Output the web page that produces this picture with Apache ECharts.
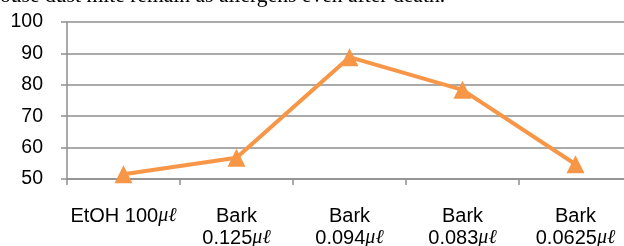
<!DOCTYPE html>
<html>
<head>
<meta charset="utf-8">
<script src="https://cdn.jsdelivr.net/npm/echarts@6/dist/echarts.min.js"></script>
<style>
html,body{margin:0;padding:0;background:#fff;}
#c{width:624px;height:246px;}
</style>
</head>
<body>
<div id="c"></div>
<script>
const categories = ['EtOH 100', 'Bark\n0.125', 'Bark\n0.094', 'Bark\n0.083', 'Bark\n0.0625'];
const unit = 'μℓ';
const values = [51.5, 56.8, 88.8, 78.4, 54.7];
const yTicks = [50, 60, 70, 80, 90, 100];
const headerText = 'ouse dust mite remain as allergens even after death.';

const chart = echarts.init(document.getElementById('c'), null, {renderer: 'canvas'});
const gridColor = '#8e8e8e';
chart.setOption({
  animation: false,
  backgroundColor: '#fff',
  graphic: [{
    type: 'text',
    left: 0,
    top: -14.5,
    style: {
      text: headerText,
      font: '21.6px "Liberation Serif"',
      fill: '#000'
    }
  }],
  grid: {left: 67, top: 22, width: 565, height: 157, containLabel: false, outerBoundsMode: 'none'},
  xAxis: {
    type: 'category',
    data: categories,
    boundaryGap: true,
    axisLine: {show: true, lineStyle: {color: gridColor, width: 1.5}},
    axisTick: {show: true, interval: 0, length: 6, lineStyle: {color: gridColor, width: 1.5}},
    axisLabel: {
      interval: 0,
      margin: 26,
      color: '#000',
      fontFamily: 'Liberation Sans',
      fontSize: 20,
      lineHeight: 22,
      formatter: function (v) {
        return v.split('\n').map(function (s, i, arr) {
          return i === arr.length - 1 ? '{a|' + s + '}{u|' + unit + '}' : '{a|' + s + '}';
        }).join('\n');
      },
      rich: {
        a: {fontFamily: 'Liberation Sans', fontSize: 20, lineHeight: 22, color: '#000'},
        u: {fontFamily: 'Liberation Serif', fontStyle: 'italic', fontSize: 20, lineHeight: 22, color: '#000'}
      }
    }
  },
  yAxis: {
    type: 'value',
    min: yTicks[0],
    max: yTicks[yTicks.length - 1],
    interval: 10,
    axisLine: {show: true, lineStyle: {color: gridColor, width: 1.5}},
    axisTick: {show: true, length: 6, lineStyle: {color: gridColor, width: 1.5}},
    splitLine: {show: true, lineStyle: {color: gridColor, width: 1.5}},
    axisLabel: {
      margin: 24,
      color: '#000',
      fontFamily: 'Liberation Sans',
      fontSize: 19.5
    }
  },
  series: [{
    type: 'line',
    data: values,
    symbol: 'triangle',
    symbolSize: [18, 18],
    lineStyle: {color: '#F79646', width: 4},
    itemStyle: {color: '#F79646', borderWidth: 0},
    z: 5
  }]
});
</script>
</body>
</html>
